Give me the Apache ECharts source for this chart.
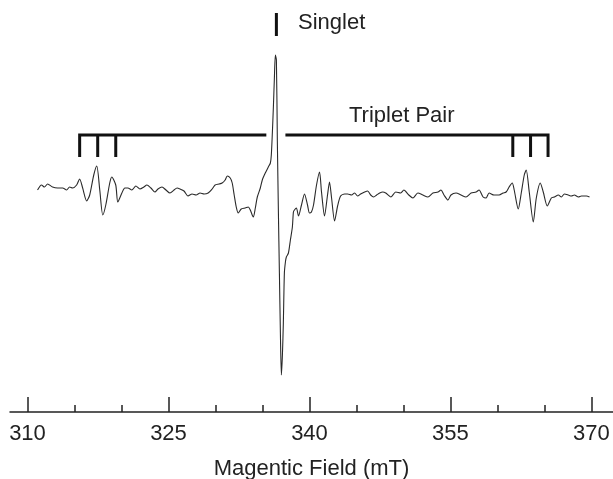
<!DOCTYPE html>
<html>
<head>
<meta charset="utf-8">
<script src="https://cdn.jsdelivr.net/npm/echarts@6/dist/echarts.min.js"></script>
<style>
  html, body { margin: 0; padding: 0; background: #fff; }
  #main { width: 613px; height: 479px; }
</style>
</head>
<body>
<div id="main"></div>
<script>
// field (mT)
var field = [
  311.07, 311.49, 311.81, 312.14, 312.67, 313.20, 313.74, 314.16, 314.48, 314.80,
  315.23, 315.55, 315.87, 316.30, 316.62, 317.05, 317.37, 317.69, 318.01, 318.33,
  318.75, 318.97, 319.39, 319.61, 320.04, 320.36, 320.68, 321.10, 321.53, 321.96,
  322.38, 322.70, 323.13, 323.56, 323.88, 324.31, 324.73, 325.16, 325.59, 325.91,
  326.23, 326.65, 327.08, 327.51, 327.94, 328.36, 328.79, 329.22, 329.64, 329.96,
  330.39, 330.71, 331.03, 331.25, 331.57, 331.78, 331.99, 332.21, 332.42, 332.74,
  333.17, 333.49, 333.70, 334.02, 334.24, 334.45, 334.77, 334.98, 335.30, 335.62,
  335.84, 335.94, 336.05, 336.16, 336.26, 336.37, 336.48, 336.58, 336.69, 336.80,
  336.90, 337.01, 337.12, 337.22, 337.33, 337.44, 337.54, 337.76, 337.97, 338.18,
  338.29, 338.40, 338.61, 338.83, 339.15, 339.47, 339.79, 340.00, 340.21, 340.43,
  340.75, 341.07, 341.28, 341.60, 341.92, 342.13, 342.35, 342.67, 342.99, 343.31,
  343.74, 344.06, 344.48, 344.80, 345.12, 345.44, 345.87, 346.19, 346.51, 346.83,
  347.15, 347.47, 347.79, 348.11, 348.65, 349.18, 349.71, 350.04, 350.57, 351.00,
  351.53, 352.06, 352.60, 353.13, 353.67, 353.99, 354.31, 354.73, 355.05, 355.59,
  356.12, 356.65, 357.19, 357.72, 358.04, 358.47, 358.79, 359.11, 359.64, 360.18,
  360.60, 360.92, 361.24, 361.57, 361.78, 362.21, 362.53, 362.85, 363.06, 363.38,
  363.81, 364.13, 364.55, 364.87, 365.30, 365.73, 366.05, 366.48, 366.80, 367.12,
  367.54, 367.86, 368.18, 368.61, 368.93, 369.47, 369.79
]
// EPR signal, arbitrary units
var signal = [
  -2, 3, 1, 4, 1, 0, 0, -2, 1, 0,
  3, 9, 0, -13, -7, 13, 22, -2, -27, -17,
  5, 11, 3, -14, -5, 0, 0, -2, 2, -1,
  1, 3, 0, -4, -1, 1, -2, -5, -2, 0,
  -1, -3, -8, -6, -7, -5, -6, -5, -1, 3,
  4, 5, 8, 12, 10, 5, -7, -19, -25, -21,
  -20, -19, -22, -29, -20, -9, 0, 8, 15, 21,
  25, 33, 55, 81, 108, 133, 128, 48, -22, -85,
  -142, -187, -167, -135, -85, -74, -69, -65, -52, -39,
  -24, -22, -20, -28, -17, -6, -17, -25, -24, -17,
  3, 16, -4, -28, -7, 6, -10, -33, -18, -8,
  -6, -6, -7, -5, -8, -6, -4, -3, -7, -9,
  -7, -5, -4, -5, -9, -4, -5, -2, -7, -10,
  -5, -7, -9, -5, -4, -2, -7, -12, -7, -5,
  -7, -9, -5, -4, -2, -9, -10, -5, -7, -7,
  -5, -4, 1, 5, -2, -21, -5, 13, 18, -4,
  -34, -10, 5, -4, -18, -10, -9, -7, -9, -6,
  -7, -8, -7, -9, -8, -8, -9
]
var majorTicks = [310, 325, 340, 355, 370]
var minorTicks = [315, 320, 330, 335, 345, 350, 360, 365]
var singletPos = 336.48
var tripletLeft = [315.55, 317.47, 319.39]
var tripletRight = [361.63, 363.52, 365.38]
var leftBarEnd = 335.41
var rightBarStart = 337.44

var barY = 53
var tickY = 31
var font = 'Liberation Sans, Arial, sans-serif'

var chart = echarts.init(document.getElementById('main'))

var spectrum = field.map(function (f, i) { return [f, signal[i]] })

// bracket paths for the two triplets + singlet marker
var bracketLines = [
  { coords: [[tripletLeft[0], tickY], [tripletLeft[0], barY], [leftBarEnd, barY]] },
  { coords: [[tripletLeft[1], barY], [tripletLeft[1], tickY]] },
  { coords: [[tripletLeft[2], barY], [tripletLeft[2], tickY]] },
  { coords: [[rightBarStart, barY], [tripletRight[2], barY], [tripletRight[2], tickY]] },
  { coords: [[tripletRight[0], barY], [tripletRight[0], tickY]] },
  { coords: [[tripletRight[1], barY], [tripletRight[1], tickY]] },
  { coords: [[singletPos, 152], [singletPos, 175]] }
]

chart.setOption({
  animation: false,
  backgroundColor: '#fff',
  grid: {
    left: 10,
    right: 0,
    top: 0,
    bottom: 67,
    outerBoundsMode: 'none'
  },
  xAxis: [
    {
      type: 'value',
      min: 308.14,
      max: 372.29,
      position: 'bottom',
      name: 'Magentic Field (mT)',
      nameLocation: 'middle',
      nameGap: 46,
      nameTextStyle: { fontFamily: font, fontSize: 22, color: '#222' },
      axisLine: { show: true, onZero: false, lineStyle: { color: '#222', width: 1.5 } },
      axisTick: { show: true, inside: true, length: 15, customValues: majorTicks,
        lineStyle: { color: '#222', width: 1.5 } },
      axisLabel: { show: true, customValues: majorTicks, margin: 11,
        fontFamily: font, fontSize: 22, color: '#222' },
      splitLine: { show: false }
    },
    {
      type: 'value',
      min: 308.14,
      max: 372.29,
      position: 'bottom',
      axisLine: { show: false, onZero: false },
      axisTick: { show: true, inside: true, length: 7, customValues: minorTicks,
        lineStyle: { color: '#222', width: 1.5 } },
      axisLabel: { show: false },
      splitLine: { show: false }
    }
  ],
  yAxis: {
    type: 'value',
    min: -224,
    max: 188,
    show: false,
    splitLine: { show: false }
  },
  series: [
    {
      type: 'line',
      data: spectrum,
      showSymbol: false,
      smooth: 0.25,
      lineStyle: { color: '#2a2a2a', width: 1.1 },
      silent: true
    },
    {
      type: 'lines',
      coordinateSystem: 'cartesian2d',
      polyline: true,
      data: bracketLines,
      lineStyle: { color: '#111', width: 3, opacity: 1 },
      silent: true
    }
  ],
  graphic: [
    {
      type: 'text',
      x: 298,
      y: 23,
      style: { text: 'Singlet', font: '22px ' + font, fill: '#222', verticalAlign: 'middle' }
    },
    {
      type: 'text',
      x: 349,
      y: 116,
      style: { text: 'Triplet Pair', font: '22px ' + font, fill: '#222', verticalAlign: 'middle' }
    }
  ]
})
</script>
</body>
</html>
